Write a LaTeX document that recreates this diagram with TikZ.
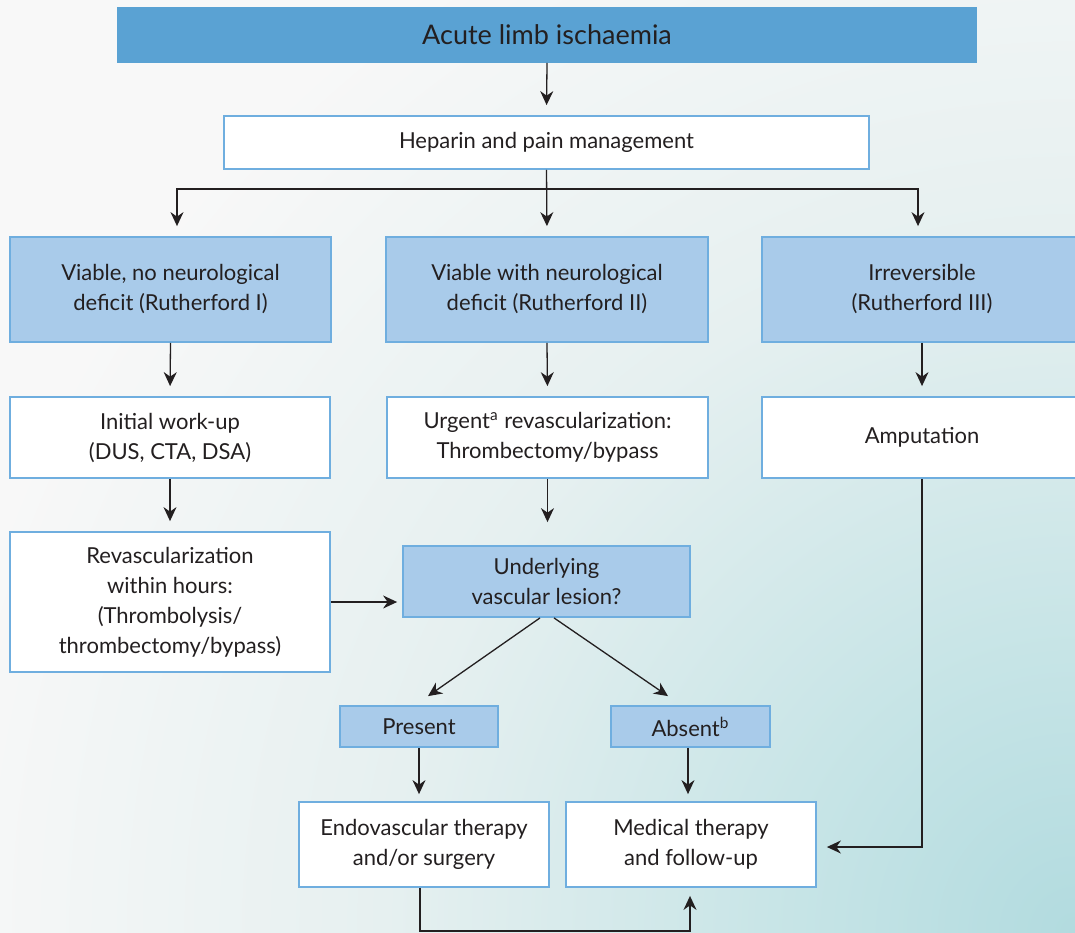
\documentclass[tikz,border=0pt]{standalone}
\usepackage{fontspec}
\setmainfont{Lato}
\usetikzlibrary{arrows.meta, positioning, calc}

\definecolor{titleblue}{HTML}{5AA2D3}
\definecolor{paleblue}{HTML}{A9CBEA}
\definecolor{edgeblue}{HTML}{6FAEDF}
\definecolor{inkgray}{HTML}{231F20}
\definecolor{bgwhite}{HTML}{F8F8F8}
\definecolor{bgmid}{HTML}{E6F0F0}
\definecolor{bglight}{HTML}{C6E4E6}
\definecolor{bgteal}{HTML}{B2DBDF}

\pgfdeclareradialshading{cornerglow}{\pgfpoint{0bp}{0bp}}{color(0bp)=(bgteal); color(6bp)=(bglight); color(15bp)=(bgmid); color(25bp)=(bgwhite); color(50bp)=(bgwhite)}

\begin{document}
\begin{tikzpicture}[
    x=0.5pt, y=-0.5pt,
    box/.style={draw=edgeblue, line width=0.9pt, align=center, inner sep=0pt, text=inkgray, font=\fontsize{11}{15}\selectfont},
    whitebox/.style={box, fill=white},
    bluebox/.style={box, fill=paleblue},
    flow/.style={-{Stealth[length=7pt, width=6.5pt]}, draw=inkgray, line width=0.65pt, shorten >=5pt}
]

% Fundo
\useasboundingbox (0,0) rectangle (1075,932);
\clip (0,0) rectangle (1075,932);
\fill[bgwhite] (0,0) rectangle (1075,932);
\shade[shading=cornerglow] (1075,932) circle[radius=575pt];

% Topo
\node[box, fill=titleblue, draw=titleblue, minimum width=429pt, minimum height=27pt, font=\fontsize{13.5}{16}\selectfont] (acute) at (547,35) {Acute limb ischaemia};
\node[whitebox, minimum width=322.5pt, minimum height=26.5pt] (heparin) at (546.5,142.5) {Heparin and pain management};

% Classes de Rutherford
\node[bluebox, minimum width=160.5pt, minimum height=52.5pt] (viable) at (170.5,289.5) {Viable, no neurological\\deficit (Rutherford I)};
\node[bluebox, minimum width=161pt, minimum height=52.5pt] (deficit) at (547,289.5) {Viable with neurological\\deficit (Rutherford II)};
\node[bluebox, minimum width=160pt, minimum height=52.5pt] (irrev) at (922,289.5) {Irreversible\\(Rutherford III)};

% Condutas
\node[whitebox, minimum width=160pt, minimum height=40.5pt] (workup) at (170,437.5) {Initial work-up\\(DUS, CTA, DSA)};
\node[whitebox, minimum width=160.5pt, minimum height=40.5pt] (urgent) at (547.5,437.5) {Urgent\textsuperscript{a} revascularization:\\Thrombectomy/bypass};
\node[whitebox, minimum width=160pt, minimum height=40.5pt] (amput) at (922,437.5) {Amputation};
\node[whitebox, minimum width=160pt, minimum height=70pt] (revasc) at (170,602) {Revascularization\\within hours:\\(Thrombolysis/\\thrombectomy/bypass)};
\node[bluebox, minimum width=143.5pt, minimum height=35.5pt] (lesion) at (546.5,581.5) {Underlying\\vascular lesion?};

% Lesão presente / ausente
\node[bluebox, minimum width=79pt, minimum height=20.5pt] (present) at (419,726.5) {Present};
\node[bluebox, minimum width=79.5pt, minimum height=20.5pt] (absent) at (690.5,726.5) {Absent\textsuperscript{b}};
\node[whitebox, minimum width=125pt, minimum height=42.5pt] (endo) at (424,844.5) {Endovascular therapy\\and/or surgery};
\node[whitebox, minimum width=125pt, minimum height=42.5pt] (medical) at (691,844.5) {Medical therapy\\and follow-up};

% Setas
\draw[flow] (acute.south) -- (heparin.north);
\draw[flow] (heparin.south) -- ++(0,19) -| ([xshift=3.25pt]viable.north);
\draw[flow] (heparin.south) -- (deficit.north);
\draw[flow] (heparin.south) -- ++(0,19) -| ([xshift=-2pt]irrev.north);

\draw[flow] (viable.south) -- (workup.north);
\draw[flow] (deficit.south) -- (urgent.north);
\draw[flow] (irrev.south) -- (amput.north);
\draw[flow] (workup.south) -- (revasc.north);
\draw[flow, shorten >=11.5pt] (urgent.south) -- (urgent.south |- lesion.north);
\draw[flow, shorten >=2.5pt] (revasc.east) -- (revasc.east -| lesion.west);

\draw[flow, shorten >=0pt] ([xshift=-3.25pt]lesion.south) -- ([xshift=4.5pt, yshift=4.5pt]present.north);
\draw[flow, shorten >=0pt] ([xshift=3.75pt]lesion.south) -- ([xshift=-11.25pt, yshift=4.5pt]absent.north);

\draw[flow, shorten >=3.5pt] (present.south) -- (present.south |- endo.north);
\draw[flow, shorten >=3.5pt] ([xshift=-1.25pt]absent.south) -- ([xshift=-1.25pt]absent.south |- medical.north);

\draw[flow] (amput.south) |- ([yshift=-1.25pt]medical.east);
\draw[flow, shorten >=4pt] ([xshift=-2pt]endo.south) -- ++(0,43) -| ([xshift=-0.5pt]medical.south);

\end{tikzpicture}
\end{document}
